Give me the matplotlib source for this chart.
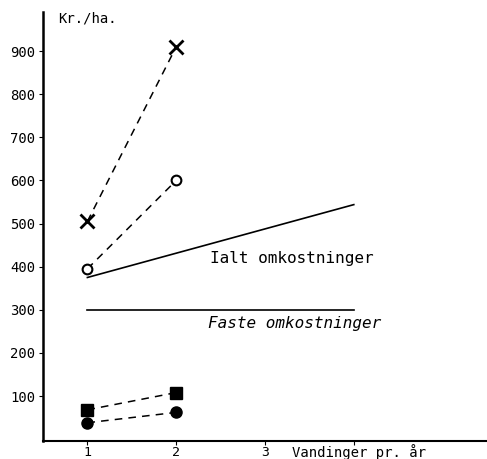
import matplotlib
matplotlib.use("Agg")
import matplotlib.pyplot as plt

# Data
x_pts = [1, 2]
cross_vals = [505, 910]
open_circle_vals = [395, 600]
square_vals = [68, 108]
dot_vals = [38, 62]
ialt_x = [1, 4]
ialt_vals = [375, 544]
faste_x = [1, 4]
faste_vals = [300, 300]
y_ticks = [100, 200, 300, 400, 500, 600, 700, 800, 900]
x_ticks = [1, 2, 3, 4]
x_ticklabels = ["1", "2", "3", ""]

plt.rcParams['font.family'] = ['DejaVu Sans Mono']

fig = plt.figure(figsize=(4.87, 4.59), dpi=100)
ax = fig.add_axes([0.089, 0.040, 0.911, 0.934])

ax.plot(x_pts, cross_vals, color='black', ls=(0, (5, 4)), lw=1.1,
        marker='x', ms=10, mew=2)
ax.plot(x_pts, open_circle_vals, color='black', ls=(0, (5, 4)), lw=1.1,
        marker='o', ms=7, mfc='white', mew=1.5)
ax.plot(x_pts, square_vals, color='black', ls=(0, (5, 4)), lw=1.1,
        marker='s', ms=8)
ax.plot(x_pts, dot_vals, color='black', ls=(0, (5, 4)), lw=1.1,
        marker='o', ms=8)
ax.plot(ialt_x, ialt_vals, color='black', lw=1.2)
ax.plot(faste_x, faste_vals, color='black', lw=1.2)

ax.text(2.38, 420, "Ialt omkostninger", fontsize=11.5, va='center', ha='left')
ax.text(2.36, 268, "Faste omkostninger", fontsize=11.5, va='center', ha='left',
        style='italic')
ax.text(0.67, 975, "Kr./ha.", fontsize=10, va='center', ha='left')

ax.set_xlim(0.504, 5.5)
ax.set_ylim(-3.5, 991)
ax.set_yticks(y_ticks)
ax.set_yticklabels([str(v) for v in y_ticks], fontsize=10)
ax.set_xticks(x_ticks)
ax.set_xticklabels(x_ticklabels, fontsize=9.5)
ax.tick_params(axis='y', direction='out', length=3, pad=3)
ax.tick_params(axis='x', direction='out', length=3, pad=1)
ax.text(3.3, -12, "Vandinger pr. år", fontsize=10, va='top', ha='left',
        transform=ax.transData, clip_on=False)

for s in ['top', 'right']:
    ax.spines[s].set_visible(False)
ax.spines['left'].set_linewidth(1.8)
ax.spines['bottom'].set_linewidth(1.5)

fig.savefig("out.png", dpi=100)
